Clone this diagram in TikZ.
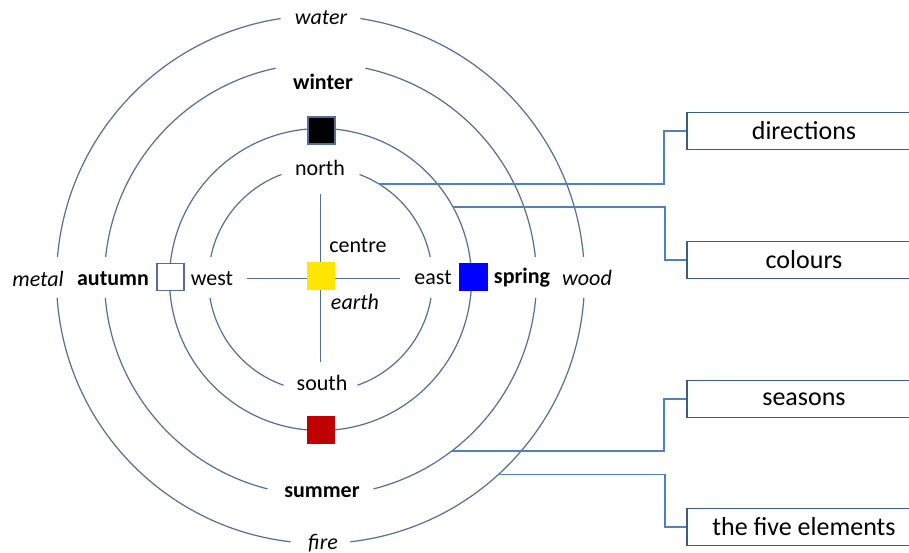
\documentclass[tikz,border=0pt]{standalone}
\usepackage{fontspec}
\setmainfont{Carlito}
\usetikzlibrary{calc}
\definecolor{ringcol}{RGB}{84,110,155}
\definecolor{linkcol}{RGB}{79,129,189}
\definecolor{boxcol}{RGB}{56,93,138}
\definecolor{sqyellow}{RGB}{255,230,0}
\definecolor{sqblue}{RGB}{0,0,255}
\definecolor{sqred}{RGB}{192,0,0}
\tikzset{
  ring/.style={draw=ringcol, line width=1.2pt},
  link/.style={draw=linkcol, line width=1.3pt},
  lbl/.style={inner sep=0pt, font=\fontsize{22}{25}\selectfont},
  blbl/.style={lbl, font=\fontsize{22}{25}\selectfont\bfseries},
  ilbl/.style={lbl, font=\fontsize{22}{25}\selectfont\itshape},
  sq/.style={draw=ringcol, line width=1.2pt, minimum size=27pt, inner sep=0pt},
  catbox/.style={draw=boxcol, line width=1.8pt, fill=white, minimum width=234pt, minimum height=37pt, inner sep=0pt, font=\fontsize{26}{29}\selectfont}
}
\begin{document}
\begin{tikzpicture}[x=1pt,y=1pt]
\useasboundingbox (0,0) rectangle (909,553);
\clip (0,0) rectangle (909,553);
\fill[white] (0,0) rectangle (909,553);
\coordinate (C) at (320.5,273.5);

% inner ring (directions)
\draw[ring] ($(C)+(11.6:112pt)$) arc[start angle=11.6, end angle=69.6, radius=112pt];
\draw[ring] ($(C)+(110.4:112pt)$) arc[start angle=110.4, end angle=168.4, radius=112pt];
\draw[ring] ($(C)+(189.5:112pt)$) arc[start angle=189.5, end angle=250.7, radius=112pt];
\draw[ring] ($(C)+(289.3:112pt)$) arc[start angle=289.3, end angle=350.5, radius=112pt];
% colour ring
\draw[ring] (C) circle[radius=151pt];
% season ring
\draw[ring] ($(C)+(6:216pt)$) arc[start angle=6, end angle=78, radius=216pt];
\draw[ring] ($(C)+(102:216pt)$) arc[start angle=102, end angle=174, radius=216pt];
\draw[ring] ($(C)+(184.9:216pt)$) arc[start angle=184.9, end angle=255.8, radius=216pt];
\draw[ring] ($(C)+(284.2:216pt)$) arc[start angle=284.2, end angle=355.1, radius=216pt];
% element ring
\draw[ring] ($(C)+(4.9:264pt)$) arc[start angle=4.9, end angle=81.3, radius=264pt];
\draw[ring] ($(C)+(98.7:264pt)$) arc[start angle=98.7, end angle=175.1, radius=264pt];
\draw[ring] ($(C)+(184:264pt)$) arc[start angle=184, end angle=263.5, radius=264pt];
\draw[ring] ($(C)+(276.5:264pt)$) arc[start angle=276.5, end angle=356, radius=264pt];

% cross
\coordinate (ctop) at (320.5,359);
\coordinate (cbot) at (320.5,191);
\coordinate (cleft) at (247,274.5);
\coordinate (cright) at (400,274.5);
\draw[link, draw=ringcol] (ctop) -- (cbot);
\draw[link, draw=ringcol] (cleft) -- (cright);

% squares
\node[sq, fill=black] (sqn) at (321.5,422.5) {};
\node[sq, fill=white] (sqw) at (170.5,276) {};
\node[sq, draw=sqyellow, fill=sqyellow] (sqc) at (321,277) {};
\node[sq, draw=sqblue, fill=sqblue] (sqe) at (473.5,276) {};
\node[sq, draw=sqred, fill=sqred] (sqs) at (321,123) {};

% labels
\node[ilbl] (water) at (321,535) {water};
\node[blbl] (winter) at (323,471) {winter};
\node[lbl] (north) at (320,385) {north};
\node[lbl] (centre) at (358,307) {centre};
\node[ilbl] (metal) at (38,274) {metal};
\node[blbl] (autumn) at (113,274) {autumn};
\node[lbl] (west) at (212,274) {west};
\node[lbl] (east) at (433,275) {east};
\node[blbl] (spring) at (522,275) {spring};
\node[ilbl] (wood) at (587,275) {wood};
\node[ilbl] (earth) at (355,251) {earth};
\node[lbl] (south) at (322,170) {south};
\node[blbl] (summer) at (322,61) {summer};
\node[ilbl] (fire) at (323,10) {fire};

% category boxes
\node[catbox] (bdir) at (804,422) {directions};
\node[catbox] (bcol) at (804,293) {colours};
\node[catbox] (bsea) at (804,154) {seasons};
\node[catbox] (bele) at (804,26) {the five elements};

% connector starts
\coordinate (sdir) at ($(C)+(58.5:112pt)$);
\coordinate (scol) at ($(C)+(28.7:151pt)$);
\coordinate (ssea) at ($(C)+(-52.5:216pt)$);
\coordinate (sele) at ($(C)+(-47.6:264pt)$);

\draw[link] (sdir) -| ($(bdir.west)+(-22pt,0)$) -- (bdir.west);
\draw[link] (scol) -| ($(bcol.west)+(-21pt,0)$) -- (bcol.west);
\draw[link] (ssea) -| ($(bsea.west)+(-22pt,0)$) -- (bsea.west);
\draw[link] (sele) -| ($(bele.west)+(-21pt,0)$) -- (bele.west);
\end{tikzpicture}
\end{document}
